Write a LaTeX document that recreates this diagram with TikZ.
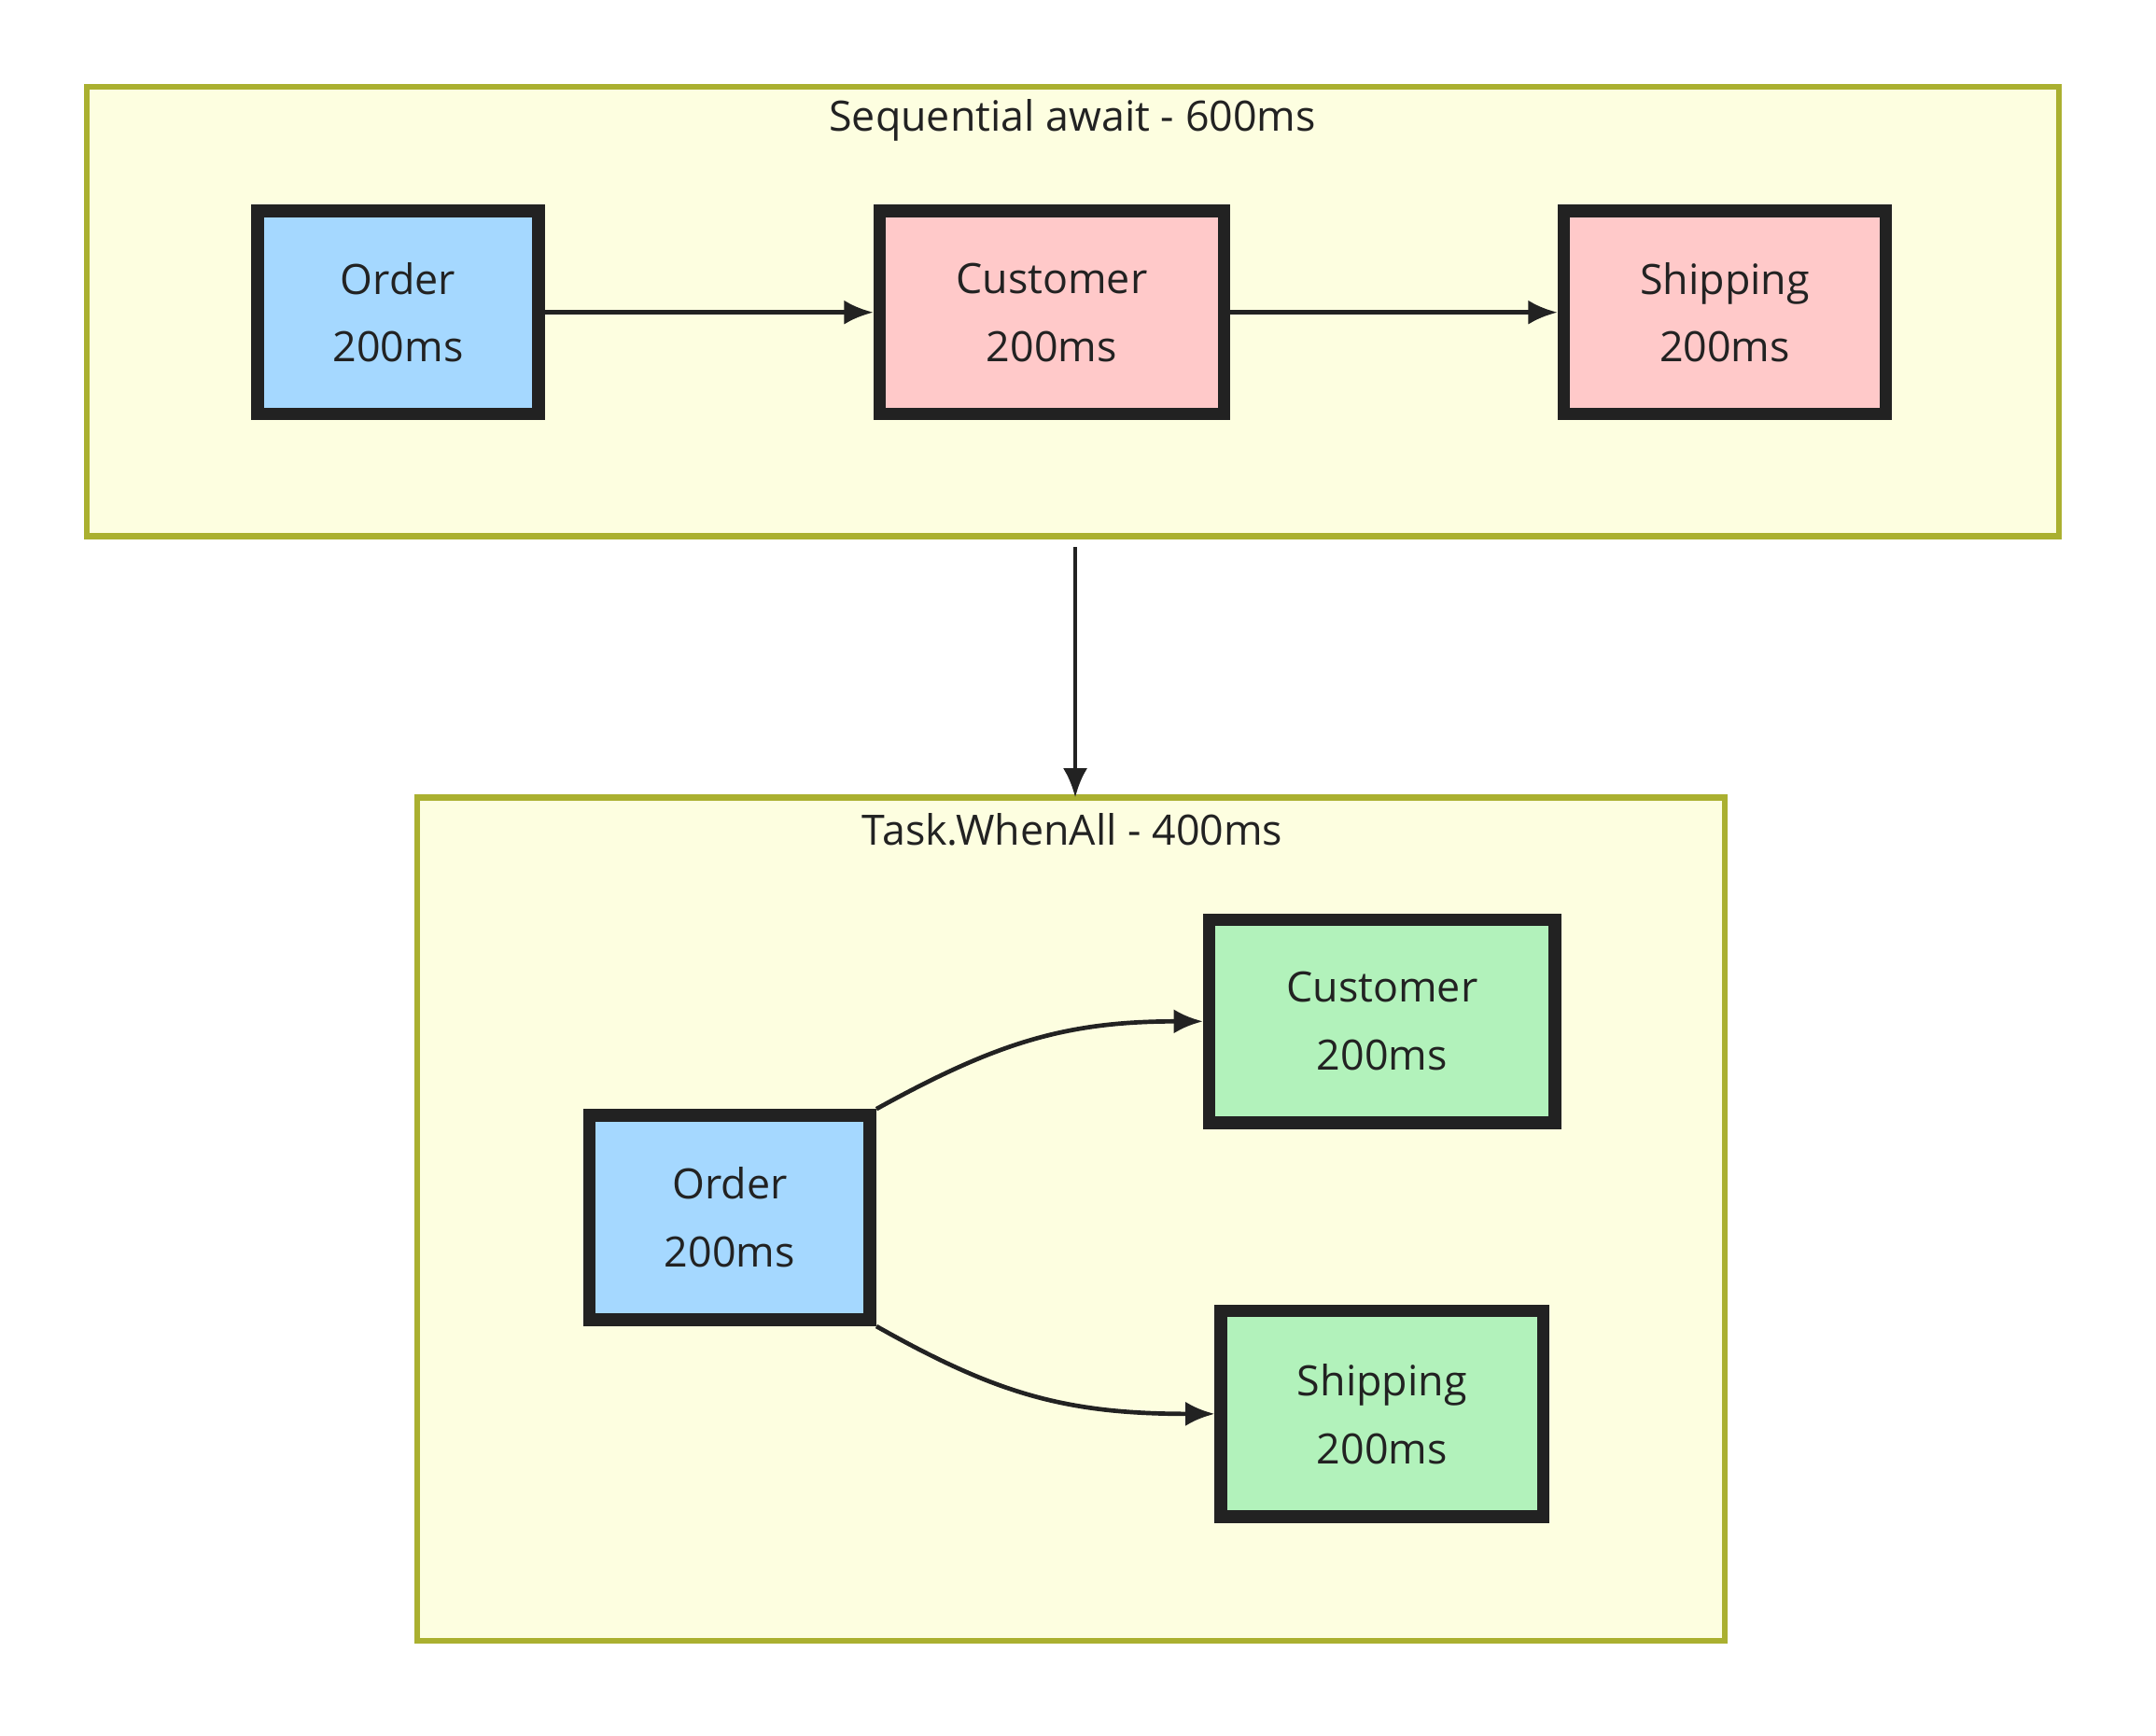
\documentclass[tikz,border=0pt]{standalone}
\usepackage{fontspec}
\setmainfont{Open Sans}
\usetikzlibrary{arrows.meta}
\definecolor{bluef}{HTML}{A5D8FF}
\definecolor{redf}{HTML}{FFC9C9}
\definecolor{greenf}{HTML}{B2F2BB}
\definecolor{boxf}{HTML}{FDFEE0}
\definecolor{boxd}{HTML}{AAB030}
\definecolor{ink}{HTML}{222222}
\begin{document}
\begin{tikzpicture}[x=0.01cm,y=-0.01cm,
  grp/.style={draw=boxd,fill=boxf,line width=1.2pt},
  task/.style={draw=ink,line width=2.6pt,minimum width=#1,align=center,font=\fontsize{8.6}{14}\selectfont,text=ink},
  title/.style={font=\fontsize{8.6}{11}\selectfont,text=ink},
  arr/.style={draw=ink,line width=0.9pt,-{Latex[length=6pt,width=5pt]}}]
\useasboundingbox (0,0) rectangle (1560,1256);
\draw[grp] (63,63) rectangle (1490,388);
\node[title] (t1) at (776,87) {Sequential await - 600ms};
\draw[grp] (302,577) rectangle (1248,1187);
\node[title] (t2) at (776,600) {Task.WhenAll - 400ms};
\coordinate (g1) at (778,396);
\coordinate (g2) at (778,577);
\draw[arr] (g1) -- (g2);

\node[task=2.03cm,minimum height=1.47cm,fill=bluef] (o1) at (288,226) {Order\\200ms};
\node[task=2.49cm,minimum height=1.47cm,fill=redf] (c1) at (761,226) {Customer\\200ms};
\node[task=2.33cm,minimum height=1.47cm,fill=redf] (s1) at (1248,226) {Shipping\\200ms};
\draw[arr] (o1) -- (c1);
\draw[arr] (c1) -- (s1);

\node[task=2.03cm,minimum height=1.48cm,fill=bluef] (o2) at (528,881) {Order\\200ms};
\node[task=2.5cm,minimum height=1.47cm,fill=greenf] (c2) at (1000,739) {Customer\\200ms};
\node[task=2.33cm,minimum height=1.49cm,fill=greenf] (s2) at (1000,1023) {Shipping\\200ms};
\draw[arr] (o2.north east) .. controls (720,755) and (770,739) .. (c2.west);
\draw[arr] (o2.south east) .. controls (720,1008) and (770,1023) .. (s2.west);
\end{tikzpicture}
\end{document}
